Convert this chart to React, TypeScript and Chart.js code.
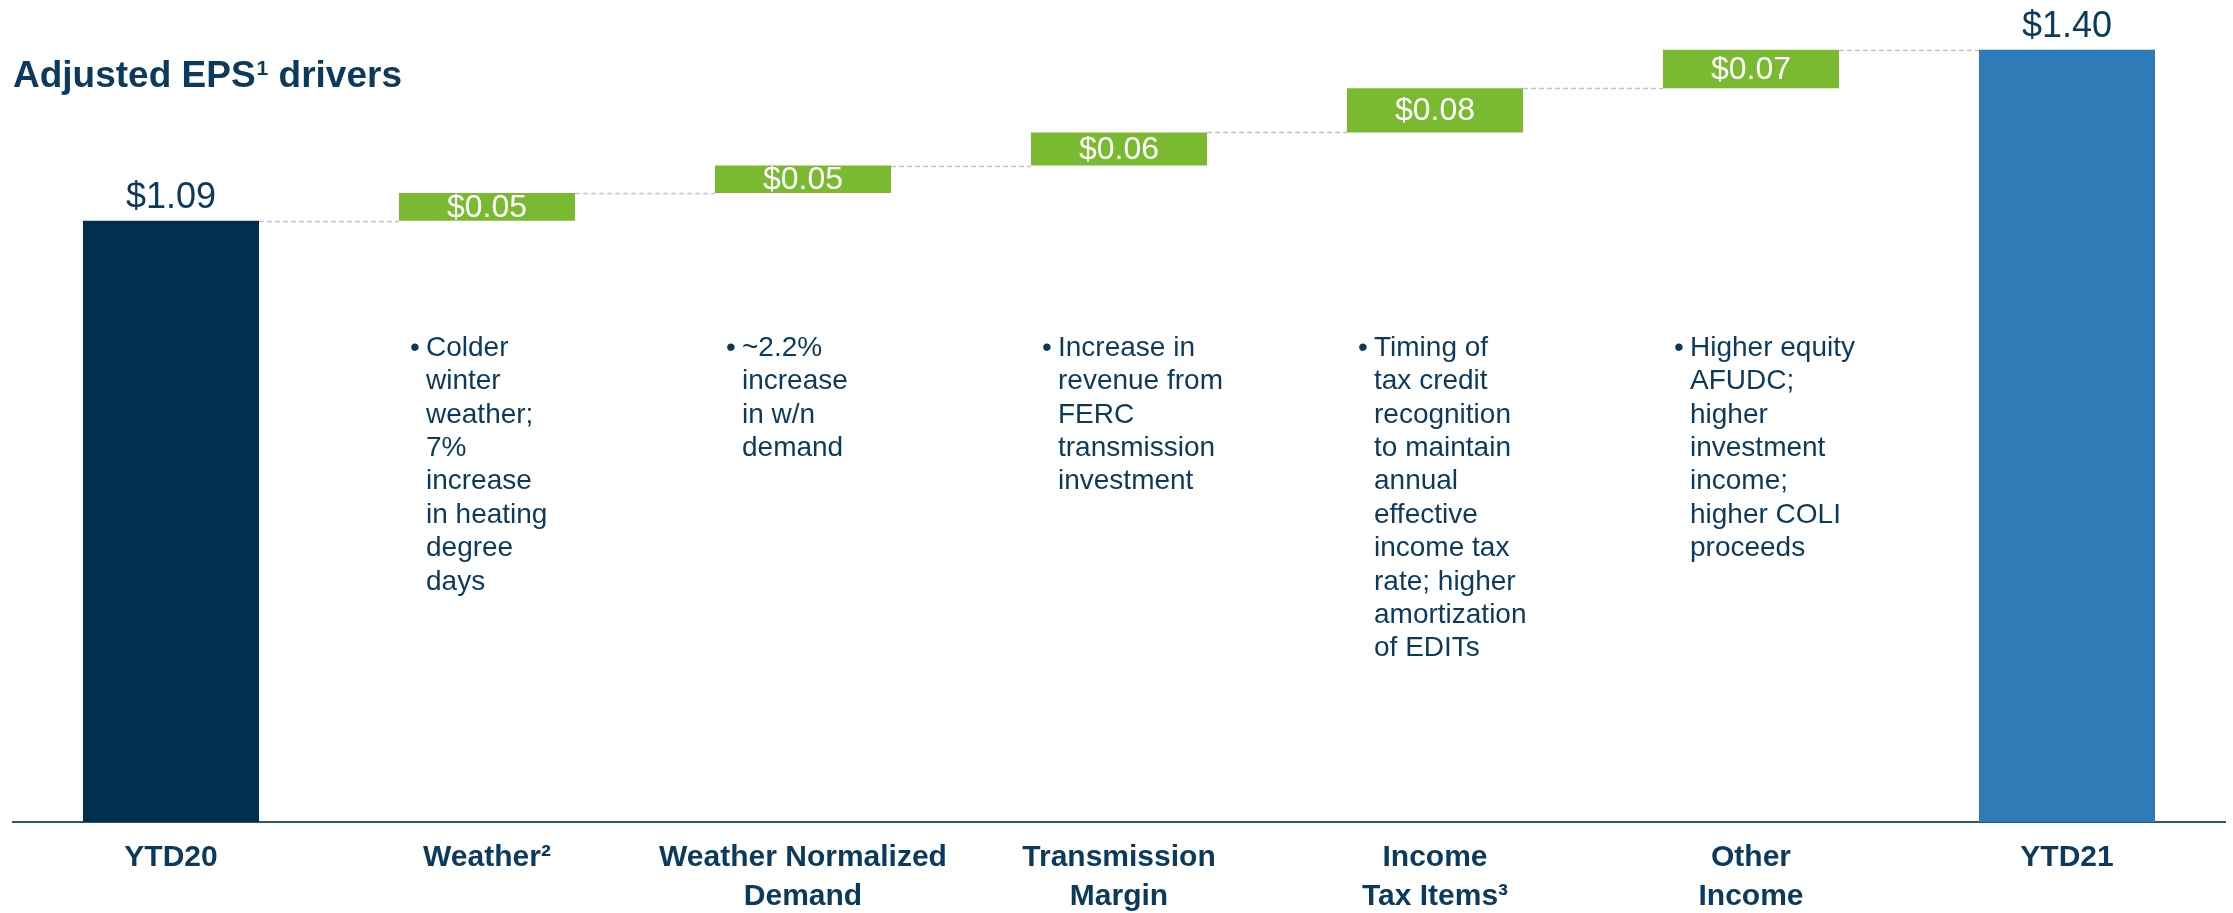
import React, { useEffect, useRef } from 'react';
import { Chart, registerables } from 'chart.js';

Chart.register(...registerables);

const titleMain = 'Adjusted EPS';
const titleSup = '1';
const titleRest = ' drivers';
const categories: (string | string[])[] = [
  'YTD20',
  'Weather²',
  ['Weather Normalized', 'Demand'],
  ['Transmission', 'Margin'],
  ['Income', 'Tax Items³'],
  ['Other', 'Income'],
  'YTD21',
];
const startTotal = 1.09;
const deltas = [0.05, 0.05, 0.06, 0.08, 0.07];
const endTotal = 1.4;
const valueLabels = ['$1.09', '$0.05', '$0.05', '$0.06', '$0.08', '$0.07', '$1.40'];
const notes: string[][] = [
  [],
  ['Colder', 'winter', 'weather;', '7%', 'increase', 'in heating', 'degree', 'days'],
  ['~2.2%', 'increase', 'in w/n', 'demand'],
  ['Increase in', 'revenue from', 'FERC', 'transmission', 'investment'],
  ['Timing of', 'tax credit', 'recognition', 'to maintain', 'annual', 'effective', 'income tax', 'rate; higher', 'amortization', 'of EDITs'],
  ['Higher equity', 'AFUDC;', 'higher', 'investment', 'income;', 'higher COLI', 'proceeds'],
  [],
];

const NAVY = '#01304f';
const GREEN = '#7aba30';
const BLUE = '#2f7bb8';
const TEXT = '#0b3a5c';
const FONT = '"Liberation Sans", Arial, Helvetica, sans-serif';

export default function App() {
  const canvasRef = useRef<HTMLCanvasElement | null>(null);

  useEffect(() => {
    const canvas = canvasRef.current;
    if (!canvas) return;

    const floating: [number, number][] = [[0, startTotal]];
    let run = startTotal;
    for (const d of deltas) {
      floating.push([run, run + d]);
      run += d;
    }
    floating.push([0, endTotal]);
    const colors = floating.map((_, i) =>
      i === 0 ? NAVY : i === floating.length - 1 ? BLUE : GREEN
    );

    const overlay = {
      id: 'overlay',
      afterDatasetsDraw(chart: any) {
        const ctx: CanvasRenderingContext2D = chart.ctx;
        const meta = chart.getDatasetMeta(0);
        const ys = chart.scales.y;
        ctx.save();
        // connectors
        ctx.strokeStyle = '#c3c3ce';
        ctx.lineWidth = 1.5;
        ctx.setLineDash([5, 3]);
        for (let i = 0; i < floating.length - 1; i++) {
          const a = meta.data[i];
          const b = meta.data[i + 1];
          const yy = Math.round(ys.getPixelForValue(floating[i][1])) + 0.5;
          ctx.beginPath();
          ctx.moveTo(a.x + a.width / 2, yy);
          ctx.lineTo(b.x - b.width / 2, yy);
          ctx.stroke();
        }
        ctx.setLineDash([]);
        // value labels
        for (let i = 0; i < floating.length; i++) {
          const el = meta.data[i];
          const isTotal = i === 0 || i === floating.length - 1;
          ctx.textAlign = 'center';
          if (isTotal) {
            ctx.font = `36px ${FONT}`;
            ctx.fillStyle = TEXT;
            ctx.textBaseline = 'alphabetic';
            const top = ys.getPixelForValue(floating[i][1]);
            ctx.fillText(valueLabels[i], el.x, top - 13);
          } else {
            ctx.font = `32px ${FONT}`;
            ctx.fillStyle = '#ffffff';
            ctx.textBaseline = 'middle';
            const y0 = ys.getPixelForValue(floating[i][0]);
            const y1 = ys.getPixelForValue(floating[i][1]);
            ctx.fillText(valueLabels[i], el.x, (y0 + y1) / 2 + 1);
          }
        }
        // notes
        ctx.font = `28px ${FONT}`;
        ctx.fillStyle = TEXT;
        ctx.textBaseline = 'middle';
        ctx.textAlign = 'left';
        for (let i = 0; i < notes.length; i++) {
          const lines = notes[i];
          if (!lines.length) continue;
          const el = meta.data[i];
          const bx = el.x - 77;
          const tx = el.x - 61;
          ctx.fillText('•', bx, 348);
          lines.forEach((ln, k) => ctx.fillText(ln, tx, 348 + k * 33.4));
        }
        // title with superscript
        ctx.fillStyle = TEXT;
        ctx.textBaseline = 'alphabetic';
        let x = 13;
        const base = 87;
        ctx.font = `bold 37px ${FONT}`;
        ctx.fillText(titleMain, x, base);
        x += ctx.measureText(titleMain).width + 1;
        ctx.font = `bold 21px ${FONT}`;
        ctx.fillText(titleSup, x, base - 12);
        x += ctx.measureText(titleSup).width;
        ctx.font = `bold 37px ${FONT}`;
        ctx.fillText(titleRest, x, base);
        ctx.restore();
      },
    };

    const chart = new Chart(canvas, {
      type: 'bar',
      data: {
        labels: categories,
        datasets: [
          {
            data: floating as any,
            backgroundColor: colors,
            borderWidth: 0,
            barPercentage: 0.557,
            categoryPercentage: 1,
          },
        ],
      },
      options: {
        responsive: true,
        maintainAspectRatio: false,
        animation: false,
        layout: { padding: { left: 13, right: 8, top: 0, bottom: 0 } },
        plugins: {
          legend: { display: false },
          tooltip: { enabled: false },
          title: { display: false },
        },
        scales: {
          x: {
            grid: { display: false },
            border: { display: true, color: '#2c5577', width: 2 },
            ticks: {
              color: TEXT,
              font: { family: FONT, size: 30, weight: 'bold', lineHeight: 1.3 },
              padding: 8,
              maxRotation: 0,
              autoSkip: false,
            },
            afterFit(scale: any) {
              scale.height = 91;
            },
          },
          y: {
            display: false,
            min: 0,
            max: 1.49,
          },
        },
      },
      plugins: [overlay],
    });

    return () => chart.destroy();
  }, []);

  return (
    <div style={{ position: 'absolute', left: 0, top: 0, width: 2233, height: 913, background: '#ffffff' }}>
      <canvas ref={canvasRef} />
    </div>
  );
}
